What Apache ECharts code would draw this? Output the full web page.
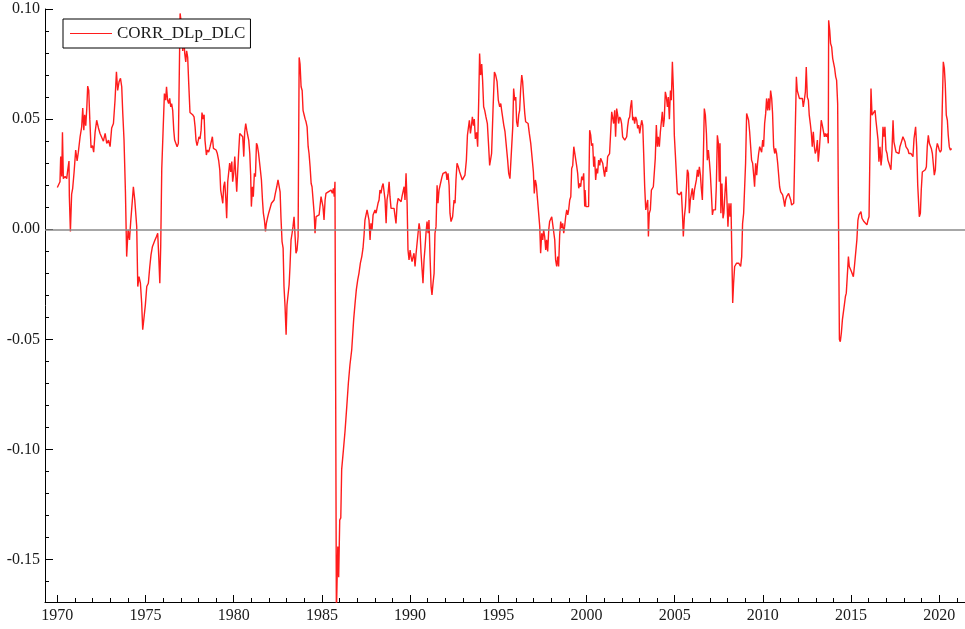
<!DOCTYPE html>
<html>
<head>
<meta charset="utf-8">
<script src="https://cdn.jsdelivr.net/npm/echarts@6/dist/echarts.min.js"></script>
<style>html,body{margin:0;padding:0;background:#fff}#c{width:965px;height:629px}</style>
</head>
<body>
<div id="c"></div>
<script>
const seriesName = 'CORR_DLp_DLC';
const xMajorTicks = [1970, 1975, 1980, 1985, 1990, 1995, 2000, 2005, 2010, 2015, 2020];
const xMinorTicks = [];
for (let y = 1970; y <= 2021; y++) xMinorTicks.push(y);
const yMajorTicks = [-0.15, -0.10, -0.05, 0.00, 0.05, 0.10];
const yMinorTicks = [-0.16,-0.15,-0.14,-0.13,-0.12,-0.11,-0.10,-0.09,-0.08,-0.07,-0.06,-0.05,-0.04,-0.03,-0.02,-0.01,0,0.01,0.02,0.03,0.04,0.05,0.06,0.07,0.08,0.09,0.10];

const dates = [
1970.00,1970.10,1970.15,1970.19,1970.25,1970.29,1970.34,1970.44,1970.53,1970.59,1970.66,1970.68,1970.74,1970.81,1970.87,1970.95,
1971.04,1971.12,1971.19,1971.29,1971.38,1971.44,1971.50,1971.55,1971.61,1971.67,1971.72,1971.78,1971.84,1971.91,1971.99,
1972.06,1972.14,1972.23,1972.33,1972.42,1972.52,1972.61,1972.71,1972.80,1972.90,1972.99,
1973.08,1973.18,1973.27,1973.35,1973.42,1973.50,1973.58,1973.65,1973.71,1973.78,1973.86,1973.93,
1974.01,1974.09,1974.16,1974.24,1974.31,1974.39,1974.44,1974.50,1974.56,1974.63,1974.71,1974.78,1974.84,1974.92,1974.99,
1975.07,1975.16,1975.24,1975.31,1975.39,1975.46,1975.54,1975.62,1975.69,1975.75,1975.81,1975.86,1975.92,1975.99,
1976.07,1976.14,1976.19,1976.25,1976.31,1976.37,1976.43,1976.48,1976.54,1976.60,1976.65,1976.71,1976.79,1976.86,1976.91,
1976.96,1977.05,1977.11,1977.16,1977.22,1977.28,1977.33,1977.39,1977.45,1977.52,1977.60,1977.67,1977.75,1977.81,1977.86,1977.92,1977.98,
1978.03,1978.09,1978.15,1978.20,1978.26,1978.32,1978.37,1978.45,1978.51,1978.58,1978.66,1978.73,1978.79,1978.85,1978.92,
1979.00,1979.07,1979.15,1979.21,1979.26,1979.32,1979.38,1979.43,1979.49,1979.55,1979.60,1979.66,1979.72,1979.77,1979.83,1979.89,1979.94,
1980.00,1980.06,1980.11,1980.17,1980.23,1980.28,1980.34,1980.40,1980.45,1980.51,1980.57,1980.62,1980.68,1980.74,1980.79,1980.85,1980.91,1980.96,
1981.00,1981.06,1981.11,1981.17,1981.23,1981.29,1981.34,1981.40,1981.45,1981.51,1981.57,1981.63,1981.68,1981.74,1981.80,1981.85,1981.91,1981.98,
1982.06,1982.14,1982.21,1982.29,1982.36,1982.44,1982.51,1982.57,1982.63,1982.68,1982.74,1982.80,1982.85,1982.91,1982.97,
1983.02,1983.08,1983.14,1983.19,1983.25,1983.31,1983.36,1983.42,1983.48,1983.53,1983.59,1983.65,1983.71,1983.76,1983.82,1983.88,1983.93,1983.99,
1984.05,1984.10,1984.16,1984.22,1984.27,1984.33,1984.39,1984.44,1984.50,1984.56,1984.61,1984.67,1984.72,1984.78,1984.84,1984.89,1984.95,
1985.01,1985.06,1985.12,1985.18,1985.23,1985.29,1985.36,1985.44,1985.52,1985.59,1985.65,1985.70,1985.74,1985.78,1985.82,1985.90,1985.95,
1986.01,1986.07,1986.12,1986.22,1986.31,1986.41,1986.50,1986.59,1986.69,1986.80,1986.88,1986.95,
1987.03,1987.10,1987.18,1987.26,1987.33,1987.39,1987.44,1987.50,1987.56,1987.61,1987.67,1987.73,1987.78,1987.84,1987.90,1987.95,
1988.01,1988.07,1988.12,1988.18,1988.24,1988.29,1988.35,1988.41,1988.47,1988.52,1988.58,1988.64,1988.69,1988.75,1988.81,1988.86,1988.92,1988.98,
1989.03,1989.09,1989.15,1989.20,1989.26,1989.32,1989.37,1989.43,1989.49,1989.54,1989.60,1989.66,1989.71,1989.77,1989.83,1989.88,1989.94,
1990.00,1990.05,1990.11,1990.17,1990.22,1990.28,1990.34,1990.39,1990.45,1990.51,1990.56,1990.62,1990.68,1990.73,1990.79,1990.85,1990.90,1990.96,
1991.02,1991.07,1991.13,1991.19,1991.24,1991.30,1991.36,1991.41,1991.47,1991.53,1991.58,1991.64,1991.70,1991.75,1991.81,1991.87,1991.93,1991.98,
1992.04,1992.09,1992.15,1992.21,1992.26,1992.32,1992.41,1992.49,1992.55,1992.60,1992.66,1992.73,1992.81,1992.89,1992.96,
1993.04,1993.11,1993.19,1993.25,1993.30,1993.36,1993.42,1993.47,1993.53,1993.59,1993.64,1993.70,1993.77,1993.83,1993.89,1993.94,
1994.00,1994.06,1994.11,1994.17,1994.23,1994.30,1994.38,1994.45,1994.51,1994.57,1994.62,1994.70,1994.78,1994.85,1994.93,
1995.00,1995.08,1995.14,1995.19,1995.25,1995.31,1995.38,1995.46,1995.53,1995.59,1995.66,1995.74,1995.82,1995.87,1995.93,1995.99,
1996.04,1996.10,1996.16,1996.21,1996.27,1996.33,1996.38,1996.44,1996.50,1996.55,1996.61,1996.69,1996.76,1996.84,1996.91,1996.99,
1997.04,1997.10,1997.16,1997.21,1997.29,1997.35,1997.40,1997.46,1997.52,1997.57,1997.63,1997.69,1997.74,1997.80,1997.86,1997.91,1997.97,
1998.03,1998.08,1998.14,1998.20,1998.25,1998.31,1998.37,1998.42,1998.48,1998.54,1998.59,1998.65,1998.71,1998.76,1998.82,1998.88,1998.94,1998.99,
1999.05,1999.11,1999.16,1999.22,1999.28,1999.33,1999.39,1999.45,1999.50,1999.56,1999.62,1999.67,1999.73,1999.79,1999.84,1999.90,1999.92,1999.97,
2000.05,2000.12,2000.18,2000.24,2000.29,2000.35,2000.41,2000.46,2000.52,2000.58,2000.63,2000.69,2000.75,2000.80,2000.86,2000.92,2000.97,
2001.03,2001.09,2001.14,2001.20,2001.26,2001.31,2001.37,2001.43,2001.48,2001.54,2001.60,2001.65,2001.71,2001.77,2001.82,2001.88,2001.94,2001.99,
2002.05,2002.11,2002.17,2002.22,2002.28,2002.33,2002.39,2002.45,2002.50,2002.56,2002.62,2002.68,2002.73,2002.79,2002.85,2002.90,2002.96,
2003.02,2003.07,2003.13,2003.19,2003.24,2003.30,2003.36,2003.41,2003.47,2003.51,2003.56,2003.62,2003.68,2003.73,2003.79,2003.85,2003.90,2003.96,
2004.02,2004.07,2004.13,2004.19,2004.24,2004.30,2004.36,2004.41,2004.47,2004.53,2004.59,2004.64,2004.70,2004.76,2004.81,2004.87,2004.93,2004.98,
2005.04,2005.10,2005.15,2005.21,2005.27,2005.32,2005.38,2005.44,2005.49,2005.55,2005.61,2005.66,2005.72,2005.78,2005.83,2005.89,2005.95,
2006.00,2006.06,2006.12,2006.17,2006.23,2006.29,2006.34,2006.40,2006.46,2006.51,2006.57,2006.63,2006.68,2006.74,2006.80,2006.85,2006.91,2006.97,
2007.02,2007.08,2007.14,2007.19,2007.25,2007.31,2007.36,2007.42,2007.48,2007.53,2007.57,2007.62,2007.68,2007.74,2007.79,2007.85,2007.91,2007.97,
2008.02,2008.08,2008.14,2008.19,2008.25,2008.29,2008.34,2008.40,2008.46,2008.51,2008.57,2008.63,2008.68,2008.74,2008.80,2008.85,2008.91,2008.97,
2009.02,2009.08,2009.14,2009.19,2009.25,2009.31,2009.36,2009.42,2009.48,2009.53,2009.59,2009.65,2009.70,2009.76,2009.82,2009.87,2009.93,2009.99,
2010.04,2010.10,2010.16,2010.21,2010.27,2010.33,2010.38,2010.44,2010.50,2010.55,2010.61,2010.67,2010.72,2010.78,2010.84,2010.90,2010.95,
2011.01,2011.07,2011.12,2011.18,2011.24,2011.29,2011.35,2011.41,2011.46,2011.52,2011.58,2011.63,2011.69,2011.75,2011.80,2011.86,2011.90,2011.95,
2012.01,2012.07,2012.12,2012.18,2012.24,2012.29,2012.35,2012.41,2012.46,2012.52,2012.58,2012.63,2012.69,2012.75,2012.80,2012.86,2012.92,2012.97,
2013.03,2013.09,2013.14,2013.20,2013.26,2013.31,2013.37,2013.43,2013.49,2013.54,2013.60,2013.66,2013.71,2013.73,2013.79,2013.84,2013.90,2013.96,
2014.01,2014.07,2014.13,2014.18,2014.24,2014.30,2014.34,2014.39,2014.45,2014.51,2014.56,2014.62,2014.68,2014.73,2014.79,2014.85,2014.90,2014.96,
2015.02,2015.07,2015.13,2015.19,2015.28,2015.33,2015.39,2015.45,2015.51,2015.56,2015.62,2015.67,2015.73,2015.79,2015.84,2015.90,2015.96,
2016.02,2016.07,2016.13,2016.19,2016.24,2016.30,2016.36,2016.41,2016.47,2016.53,2016.58,2016.64,2016.70,2016.75,2016.81,2016.87,2016.92,2016.98,
2017.04,2017.09,2017.15,2017.21,2017.26,2017.32,2017.38,2017.43,2017.49,2017.55,2017.60,2017.66,2017.72,2017.77,2017.83,2017.89,2017.94,
2018.00,2018.06,2018.11,2018.17,2018.23,2018.28,2018.34,2018.40,2018.45,2018.51,2018.57,2018.62,2018.66,2018.72,2018.78,2018.83,2018.87,2018.93,2018.98,
2019.04,2019.10,2019.15,2019.21,2019.27,2019.32,2019.38,2019.44,2019.49,2019.55,2019.61,2019.66,2019.72,2019.78,2019.83,2019.89,2019.95,
2020.00,2020.06,2020.12,2020.17,2020.23,2020.29,2020.34,2020.40,2020.46,2020.51,2020.57,2020.63,2020.70
];

const corr = [
0.019,0.0196,0.0216,0.033,0.024,0.044,0.023,0.024,0.023,0.027,0.031,0.015,-0.001,0.016,0.0186,0.026,
0.036,0.031,0.035,0.042,0.0465,0.055,0.045,0.052,0.047,0.055,0.065,0.063,0.050,0.037,0.038,
0.035,0.044,0.0495,0.046,0.0435,0.044,0.040,0.0435,0.039,0.0405,0.0375,
0.046,0.048,0.0586,0.0715,0.063,0.067,0.0685,0.0647,0.0526,0.0405,0.017,-0.0124,
-0.0003,-0.0048,0.0035,0.0118,0.0193,0.0133,0.0125,0.0012,-0.026,-0.0215,-0.0245,-0.0335,-0.0456,-0.0396,-0.0343,
-0.026,-0.0245,-0.017,-0.0116,-0.0079,-0.0071,-0.0048,-0.0033,-0.0018,-0.0124,-0.0245,-0.0079,0.0276,0.0435,
0.0616,0.0586,0.0647,0.0586,0.0571,0.0594,0.0556,0.0571,0.054,0.045,0.0405,0.0397,0.0375,0.039,0.039,
0.098,0.092,0.081,0.089,0.080,0.076,0.081,0.078,0.066,0.053,0.0526,0.052,0.051,0.0465,0.0405,0.038,0.040,
0.042,0.041,0.045,0.053,0.050,0.052,0.0405,0.0337,0.036,0.035,0.0375,0.0375,0.042,0.0367,0.036,
0.036,0.0344,0.031,0.027,0.0178,0.017,0.0118,0.0193,0.0216,0.014,0.005,0.0216,0.0224,0.030,0.026,0.0307,0.0216,
0.0254,0.033,0.0254,0.017,0.027,0.035,0.0435,0.0435,0.0428,0.042,0.033,0.044,0.048,0.045,0.0428,0.0405,0.0344,0.0246,
0.0103,0.0193,0.0148,0.0254,0.0239,0.039,0.038,0.035,0.0344,0.027,0.0224,0.0133,0.0073,0.0042,-0.001,0.0027,0.005,0.0073,
0.008,0.0118,0.0125,0.0133,0.0163,0.0193,0.0224,0.0216,0.017,0.005,-0.0056,-0.0086,-0.026,-0.035,-0.0479,
-0.0343,-0.0335,-0.0252,-0.0169,-0.0048,-0.0018,0.0012,0.0057,-0.0033,-0.0109,-0.0094,-0.0033,0.078,0.075,0.0647,0.063,0.054,0.052,
0.050,0.0488,0.0465,0.0375,0.0344,0.0284,0.0208,0.0193,0.0133,0.0073,-0.0018,0.0057,0.005,0.0057,0.0065,0.0057,0.0148,
0.014,0.0103,0.0042,0.0133,0.0163,0.017,0.017,0.017,0.0178,0.0163,0.0186,0.0148,0.0216,-0.0736,-0.175,-0.144,-0.158,
-0.132,-0.131,-0.109,-0.100,-0.0917,-0.0804,-0.0698,-0.0615,-0.0547,-0.041,-0.0335,-0.0275,
-0.023,-0.020,-0.0154,-0.0124,-0.0086,-0.0026,0.0042,0.005,0.0088,0.0095,0.0042,-0.0048,0.0027,-0.0003,0.0065,0.0073,
0.0088,0.0073,0.008,0.0118,0.0133,0.0178,0.0163,0.0193,0.0208,0.020,0.0133,0.0027,0.0133,0.0163,0.0216,0.0148,0.0095,0.0088,
0.0103,0.0095,0.0057,0.0027,0.011,0.014,0.0148,0.0133,0.0125,0.0148,0.014,0.0193,0.0133,0.0254,0.0118,-0.0094,-0.0139,
-0.0094,-0.0124,-0.0147,-0.0124,-0.0109,-0.0169,-0.0109,-0.0109,-0.0018,0.0027,-0.0003,-0.0109,-0.0184,-0.0245,-0.0139,-0.0079,-0.0018,0.0035,
-0.0018,0.0042,-0.0124,-0.026,-0.0298,-0.0245,-0.020,-0.0018,0.0012,0.020,0.0118,0.0178,0.020,0.0193,0.0239,0.0254,0.0246,0.0254,
0.026,0.0224,0.0254,0.020,0.0073,0.0035,0.0057,0.0133,0.0118,0.0224,0.030,0.0284,0.026,0.0254,0.0224,
0.023,0.0246,0.0314,0.0427,0.042,0.0495,0.0435,0.0465,0.051,0.047,0.050,0.041,0.044,0.0375,0.0586,0.0798,
0.070,0.075,0.0677,0.0556,0.054,0.051,0.048,0.038,0.029,0.0284,0.0344,0.054,0.0714,0.070,0.067,
0.0586,0.0556,0.0571,0.054,0.0533,0.0473,0.0443,0.0435,0.0314,0.0254,0.023,0.0239,0.0465,0.0639,0.0586,0.060,
0.0488,0.0465,0.052,0.054,0.0639,0.070,0.067,0.0594,0.0526,0.0488,0.0488,0.048,0.0435,0.039,0.033,0.026,
0.0163,0.0224,0.020,0.0148,0.014,0.0012,-0.0109,-0.0018,-0.0048,-0.0003,-0.0033,-0.0094,-0.0048,-0.0101,-0.0003,0.0035,0.0042,
0.0057,0.005,0.0065,-0.0048,-0.0139,-0.0169,-0.0124,-0.0169,-0.0026,0.0035,0.0005,0.0027,-0.0018,0.0012,0.0057,0.0088,0.0065,0.0088,
0.0133,0.0148,0.0276,0.029,0.0375,0.038,0.0375,0.0284,0.0254,0.0186,0.0208,0.0193,0.0239,0.0224,0.0254,0.0103,0.0178,0.0103,
0.011,0.0103,0.045,0.0427,0.038,0.039,0.0284,0.033,0.0224,0.0276,0.0254,0.0314,0.029,0.0322,0.033,0.030,0.027,
0.0239,0.0284,0.026,0.033,0.0337,0.0344,0.0337,0.0533,0.0526,0.048,0.054,0.042,0.0548,0.0518,0.048,0.051,0.050,0.048,
0.042,0.0427,0.0405,0.0397,0.042,0.0465,0.050,0.051,0.0556,0.0586,0.0495,0.051,0.048,0.051,0.0495,0.0458,0.0473,
0.0435,0.0465,0.0495,0.0473,0.035,0.0193,0.0088,0.008,0.0133,-0.0033,0.0073,0.0088,0.0178,0.0186,0.0193,0.0193,0.0322,0.0473,
0.0375,0.042,0.0375,0.0443,0.045,0.0533,0.0465,0.050,0.0624,0.060,0.0556,0.060,0.050,0.063,0.0586,0.076,0.063,0.0427,
0.0337,0.033,0.0163,0.0156,0.0156,0.0163,0.017,0.0073,-0.0033,0.0057,0.0103,0.0095,0.027,0.0254,0.0073,0.0133,0.0163,
0.0186,0.0133,0.0178,0.017,0.0224,0.027,0.0239,0.0284,0.0246,0.0186,0.0133,0.0344,0.0548,0.0518,0.0435,0.0314,0.036,0.0307,
0.0254,0.0163,0.0065,0.0088,0.008,0.0088,0.0193,0.0427,0.039,0.0216,0.039,0.0073,0.0208,0.005,0.0073,0.0163,0.0239,0.0118,
0.0012,0.0118,0.0057,0.0118,0.0125,-0.0335,-0.0245,-0.0169,-0.0162,-0.0154,-0.0162,-0.0154,-0.0154,-0.0169,-0.0124,0.0027,0.0073,0.008,
0.030,0.0526,0.0518,0.0495,0.0443,0.0435,0.0314,0.030,0.0246,0.0193,0.030,0.0246,0.030,0.0344,0.0375,0.0375,0.035,0.0405,
0.0375,0.048,0.0526,0.0594,0.054,0.0594,0.054,0.063,0.0594,0.0526,0.0375,0.0344,0.0367,0.0344,0.030,0.030,0.0193,
0.017,0.0163,0.0156,0.0133,0.0103,0.0133,0.0148,0.0156,0.0163,0.0148,0.0133,0.011,0.0118,0.0118,0.0118,0.0125,0.0692,0.063,
0.0639,0.0594,0.060,0.0586,0.0594,0.0556,0.0586,0.0624,0.0737,0.060,0.0586,0.0518,0.048,0.0435,0.0375,0.0443,0.0375,0.0344,
0.036,0.0405,0.0307,0.036,0.0435,0.0495,0.0473,0.0465,0.042,0.0435,0.042,0.0435,0.039,0.0949,0.0903,0.0843,0.0828,0.0775,
0.0767,0.073,0.0692,0.0677,0.0571,0.0563,-0.050,-0.051,-0.0471,-0.041,-0.0403,-0.0343,-0.0305,-0.029,-0.0207,-0.0124,-0.0169,-0.0162,
-0.0192,-0.0184,-0.0215,-0.0169,-0.0169,-0.0048,0.0042,0.0065,0.0073,0.008,0.005,0.0042,0.0035,0.0027,0.0027,0.002,0.0042,
0.0057,0.035,0.0639,0.0518,0.0526,0.0518,0.054,0.0495,0.050,0.0405,0.0307,0.0375,0.029,0.033,0.0465,0.042,0.0465,0.036,
0.0344,0.0314,0.030,0.0284,0.027,0.036,0.0495,0.0397,0.039,0.035,0.0344,0.035,0.0344,0.0375,0.038,0.0405,0.042,
0.0427,0.0397,0.0375,0.0375,0.036,0.0344,0.035,0.0344,0.0337,0.033,0.0412,0.042,0.0465,0.0375,0.020,0.0193,0.0057,0.0073,0.0178,
0.026,0.026,0.026,0.027,0.0284,0.0375,0.0427,0.039,0.0397,0.0367,0.0344,0.030,0.0246,0.027,0.036,0.039,0.0375,
0.036,0.035,0.036,0.0548,0.076,0.073,0.066,0.0518,0.0495,0.0427,0.0375,0.036,0.0367
];

const seriesData = dates.map((d, i) => [d, corr[i]]);

const FONT = 'Liberation Serif';
const X_MIN = 1969.30, X_MAX = 2021.46;
const Y_MIN = -0.1692, Y_MAX = 0.10;

const chart = echarts.init(document.getElementById('c'), null, {renderer: 'canvas'});
chart.setOption({
  animation: false,
  backgroundColor: '#ffffff',
  grid: {left: 45, right: 0, top: 9, bottom: 27, containLabel: false},
  legend: {
    show: true,
    left: 63, top: 19,
    orient: 'horizontal',
    itemWidth: 42, itemHeight: 16,
    padding: [6, 5, 6, 7],
    borderColor: '#000', borderWidth: 1, borderRadius: 0,
    backgroundColor: '#fff',
    textStyle: {fontFamily: FONT, fontSize: 17, color: '#1a1a1a', lineHeight: 16},
    data: [{name: seriesName, icon: 'path://M0,0 L42,0 L42,1 L0,1 Z'}]
  },
  xAxis: [
    {
      type: 'value', min: X_MIN, max: X_MAX, position: 'bottom',
      axisLine: {show: true, onZero: false, lineStyle: {color: '#000', width: 1}},
      axisTick: {show: true, inside: true, length: 7, customValues: xMajorTicks, lineStyle: {color: '#000'}},
      axisLabel: {show: true, customValues: xMajorTicks, margin: 6, fontFamily: FONT, fontSize: 16, color: '#1a1a1a', formatter: v => String(Math.round(v))},
      splitLine: {show: false}
    },
    {
      type: 'value', min: X_MIN, max: X_MAX, position: 'bottom',
      axisLine: {show: false, onZero: false},
      axisTick: {show: true, inside: true, length: 4, customValues: xMinorTicks, lineStyle: {color: '#000'}},
      axisLabel: {show: false},
      splitLine: {show: false}
    }
  ],
  yAxis: [
    {
      type: 'value', min: Y_MIN, max: Y_MAX, position: 'left',
      axisLine: {show: true, onZero: false, lineStyle: {color: '#000', width: 1}},
      axisTick: {show: true, inside: true, length: 8, customValues: yMajorTicks, lineStyle: {color: '#000'}},
      axisLabel: {show: true, customValues: yMajorTicks, margin: 5, fontFamily: FONT, fontSize: 16, color: '#1a1a1a', formatter: v => v.toFixed(2)},
      splitLine: {show: false}
    },
    {
      type: 'value', min: Y_MIN, max: Y_MAX, position: 'left',
      axisLine: {show: false, onZero: false},
      axisTick: {show: true, inside: true, length: 4, customValues: yMinorTicks, lineStyle: {color: '#000'}},
      axisLabel: {show: false},
      splitLine: {show: false}
    }
  ],
  series: [{
    name: seriesName,
    type: 'line',
    xAxisIndex: 0, yAxisIndex: 0,
    data: seriesData,
    showSymbol: false, symbol: 'none',
    clip: true,
    lineStyle: {color: '#ff1c1c', width: 1.4},
    itemStyle: {color: '#ff1c1c'},
    markLine: {
      silent: true, symbol: 'none', animation: false,
      label: {show: false},
      lineStyle: {color: '#8a8a8a', width: 1.5, type: 'solid'},
      data: [{yAxis: 0}]
    },
    z: 3
  }]
});
</script>
</body>
</html>
